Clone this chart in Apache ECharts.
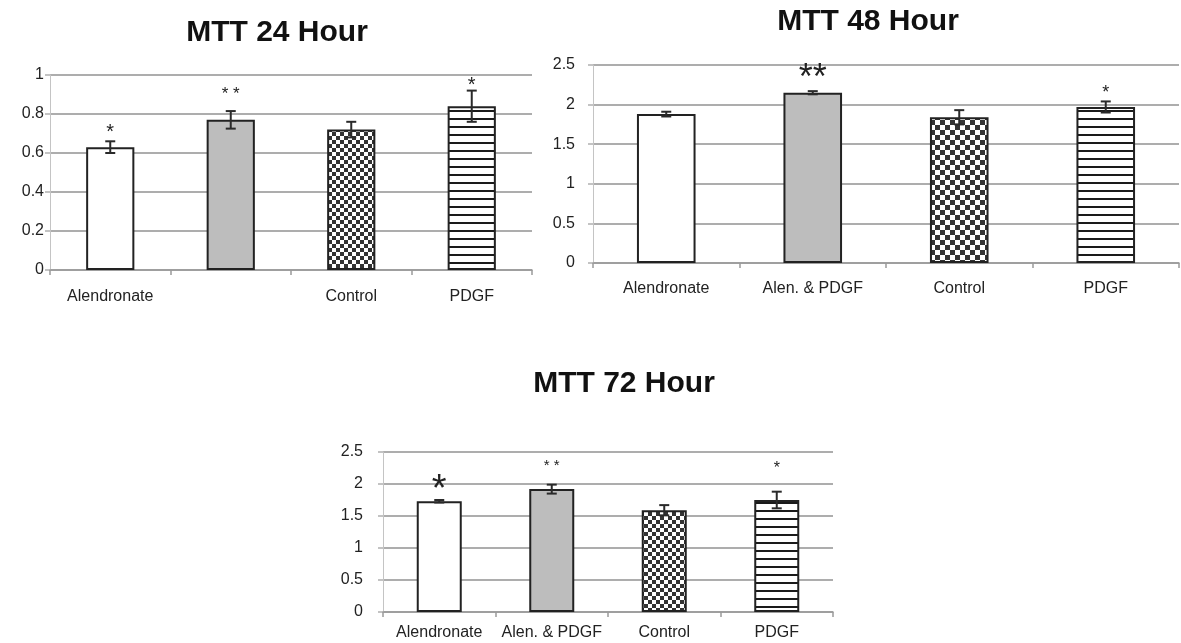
<!DOCTYPE html>
<html><head><meta charset="utf-8">
<script src="https://cdn.jsdelivr.net/npm/echarts@6/dist/echarts.min.js"></script>
<style>html,body{margin:0;padding:0;background:#fff;}#c{width:1181px;height:643px;}</style>
</head><body><div id="c"></div>
<script>
// ---------- data ----------
const titles = ['MTT 24 Hour', 'MTT 48 Hour', 'MTT 72 Hour'];
const cats24 = ['Alendronate', '', 'Control', 'PDGF'];
const cats48 = ['Alendronate', 'Alen. & PDGF', 'Control', 'PDGF'];
const cats72 = ['Alendronate', 'Alen. & PDGF', 'Control', 'PDGF'];
const mean24 = [0.63, 0.77, 0.72, 0.84];
const err24  = [0.03, 0.045, 0.04, 0.08];
const mean48 = [1.88, 2.15, 1.84, 1.97];
const err48  = [0.03, 0.02, 0.09, 0.07];
const mean72 = [1.73, 1.92, 1.59, 1.75];
const err72  = [0.02, 0.07, 0.08, 0.13];
const star24 = ['*', '* *', '', '*'];
const star48 = ['', '**', '', '*'];
const star72 = ['*', '* *', '', '*'];
const starAt24 = [0.733, 0.923, 0, 0.974];
const starAt48 = [0, 2.45, 0, 2.21];
const starAt72 = [2.066, 2.35, 0, 2.317];
const yTicks24 = ['0', '0.2', '0.4', '0.6', '0.8', '1'];
const yTicks48 = ['0', '0.5', '1', '1.5', '2', '2.5'];
const yTicks72 = ['0', '0.5', '1', '1.5', '2', '2.5'];

// ---------- styles ----------
const FONT = '"Liberation Sans", Arial, sans-serif';
function checker(cell) {
  const c = document.createElement('canvas');
  c.width = cell * 2; c.height = cell * 2;
  const g = c.getContext('2d');
  g.fillStyle = '#fff'; g.fillRect(0, 0, c.width, c.height);
  g.fillStyle = '#333';
  g.fillRect(0, 0, cell, cell); g.fillRect(cell, cell, cell, cell);
  return { image: c, repeat: 'repeat' };
}
function stripes(step) {
  const c = document.createElement('canvas');
  c.width = 8; c.height = step;
  const g = c.getContext('2d');
  g.fillStyle = '#fff'; g.fillRect(0, 0, 8, step);
  g.fillStyle = '#1a1a1a'; g.fillRect(0, step - 2, 8, 2);
  return { image: c, repeat: 'repeat' };
}
const fills = [
  ['#ffffff', '#bdbdbd', checker(4), stripes(8)],
  ['#ffffff', '#bdbdbd', checker(5), stripes(8)],
  ['#ffffff', '#bdbdbd', checker(4), stripes(8)]
];
const starSizes = [
  [20, 17, 0, 20],
  [0, 36, 0, 18],
  [38, 15, 0, 16]
];
const grids = [
  { left: 50, right: 649, top: 75, bottom: 373 },
  { left: 593, right: 2, top: 65, bottom: 380 },
  { left: 383, right: 348, top: 452, bottom: 31 }
];
const labelMarginY = [6, 18, 20];
const labelMarginX = [19, 18, 13];
const titlePos = [[277, 33], [868, 22], [624, 384]];

const sets = [
  { cats: cats24, mean: mean24, err: err24, star: star24, starAt: starAt24, ticks: yTicks24 },
  { cats: cats48, mean: mean48, err: err48, star: star48, starAt: starAt48, ticks: yTicks48 },
  { cats: cats72, mean: mean72, err: err72, star: star72, starAt: starAt72, ticks: yTicks72 }
];

const xAxis = [], yAxis = [], series = [], graphic = [];
sets.forEach((s, k) => {
  const maxV = parseFloat(s.ticks[s.ticks.length - 1]);
  const step = parseFloat(s.ticks[1]) - parseFloat(s.ticks[0]);
  xAxis.push({
    type: 'category', gridIndex: k, data: s.cats,
    axisLine: { lineStyle: { color: '#9a9a9a', width: 1.5 } },
    axisTick: { show: true, length: 5, lineStyle: { color: '#9a9a9a', width: 1.5 } },
    axisLabel: { color: '#222', fontSize: 16, fontFamily: FONT, margin: labelMarginX[k], interval: 0 }
  });
  yAxis.push({
    type: 'value', gridIndex: k, min: 0, max: maxV, interval: step,
    axisLine: { show: true, lineStyle: { color: '#c4c4c4', width: 1 } },
    axisTick: { show: true, length: 5, lineStyle: { color: '#b0b0b0', width: 1.5 } },
    splitLine: { lineStyle: { color: '#adadad', width: 1.8 } },
    axisLabel: { color: '#222', fontSize: 16, fontFamily: FONT, margin: labelMarginY[k],
      formatter: v => { const i = Math.round(v / step); return s.ticks[i] !== undefined ? s.ticks[i] : ''; } }
  });
  series.push({
    type: 'bar', xAxisIndex: k, yAxisIndex: k, barWidth: '40%', z: 2,
    data: s.mean.map((v, i) => ({ value: v, itemStyle: { color: fills[k][i] } })),
    itemStyle: { borderColor: '#222', borderWidth: 2 },
    emphasis: { disabled: true }, animation: false
  });
  series.push({
    type: 'custom', xAxisIndex: k, yAxisIndex: k, z: 5, clip: false, animation: false,
    data: s.mean.map((v, i) => [i, v, s.err[i], s.starAt[i]]),
    renderItem: (params, api) => {
      const i = api.value(0), m = api.value(1), e = api.value(2), sa = api.value(3);
      const top = api.coord([i, m + e]);
      const bot = api.coord([i, m - e]);
      const cap = 5;
      const ls = { stroke: '#2a2a2a', lineWidth: 2 };
      const children = [
        { type: 'line', shape: { x1: top[0], y1: top[1], x2: bot[0], y2: bot[1] }, style: ls },
        { type: 'line', shape: { x1: top[0] - cap, y1: top[1], x2: top[0] + cap, y2: top[1] }, style: ls },
        { type: 'line', shape: { x1: bot[0] - cap, y1: bot[1], x2: bot[0] + cap, y2: bot[1] }, style: ls }
      ];
      const txt = s.star[params.dataIndex];
      if (txt) {
        const fs = starSizes[k][params.dataIndex];
        const p = api.coord([i, sa]);
        children.push({ type: 'text', x: p[0], y: p[1] + fs * 0.28,
          style: { text: txt, fill: '#222', fontSize: fs, fontFamily: FONT, align: 'center', verticalAlign: 'middle' } });
      }
      return { type: 'group', children };
    }
  });
  graphic.push({ type: 'text', x: titlePos[k][0], y: titlePos[k][1],
    style: { text: titles[k], fill: '#111', fontSize: 30, fontWeight: 'bold', fontFamily: FONT, align: 'center', verticalAlign: 'middle' } });
});

const chart = echarts.init(document.getElementById('c'), null, { renderer: 'canvas' });
chart.setOption({
  backgroundColor: '#fff',
  animation: false,
  grid: grids,
  xAxis, yAxis, series, graphic
});
</script></body></html>
